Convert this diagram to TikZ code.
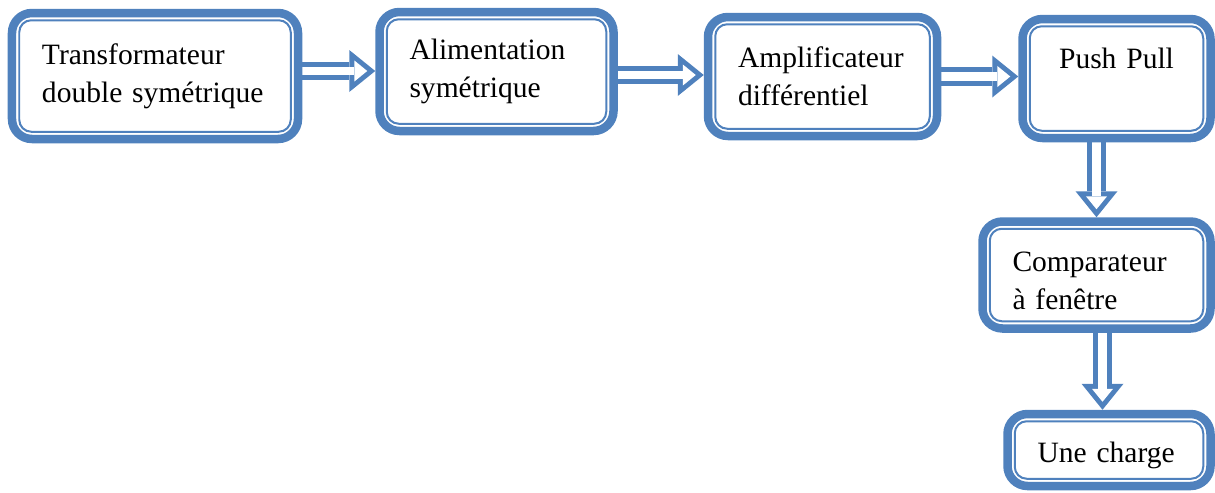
\documentclass[tikz,border=0pt]{standalone}
\usepackage{fontspec}
\setmainfont{Liberation Serif}
\usetikzlibrary{positioning, arrows.meta, backgrounds}
\definecolor{boxblue}{RGB}{79,129,189}

\begin{document}
\begin{tikzpicture}[>=Stealth, every node/.style={font=\fontsize{16.8pt}{21.5pt}\selectfont}]
        \useasboundingbox (0,0) rectangle (24.3,-9.84);
        \tikzset{
            blockbox/.style={draw=boxblue, line width=0.17cm, rounded corners=0.4cm, fill=white, inner xsep=0.6cm, inner ysep=0pt, align=left},
            innerline/.style={draw=boxblue, line width=0.04cm, rounded corners=0.24cm},
            hollowarrow/.style={draw=boxblue, line width=0.37cm, -{Triangle[length=0.52cm, width=0.84cm, line width=0pt]},
                postaction={draw=white, line width=0.17cm, shorten >=0.16cm, -{Triangle[length=0.26cm, width=0.424cm, line width=0pt]}}}
        }

        % Blocks
        \node (trans) [blockbox, minimum width=5.72cm, minimum height=2.52cm, text width=4.52cm] at (3.10,-1.52) {Transformateur\\double symétrique};
        \node (alim) [blockbox, right=1.46cm of trans, yshift=0.09cm, minimum width=4.68cm, minimum height=2.38cm, text width=3.48cm] {Alimentation\\symétrique};
        \node (ampli) [blockbox, right=1.72cm of alim, yshift=-0.1cm, minimum width=4.58cm, minimum height=2.38cm, text width=3.38cm] {Amplificateur\\différentiel};
        \node (push) [blockbox, right=1.54cm of ampli, yshift=-0.04cm, minimum width=3.76cm, minimum height=2.38cm, text width=2.56cm, align=center, text depth=0.82cm] {Push Pull};
        \node (comp) [blockbox, below=1.5cm of push, xshift=-0.4cm, minimum width=4.56cm, minimum height=2.14cm, text width=3.36cm, text height=0.64cm] {Comparateur\\à fenêtre};
        \node (charge) [blockbox, below=1.54cm of comp, xshift=0.25cm, minimum width=4.06cm, minimum height=1.44cm, text width=2.86cm, text height=0.62cm] {Une charge};

        % Inner border lines
        \foreach \n in {trans, alim, ampli, push, comp, charge}
            \draw[innerline] ([shift={(0.23,-0.23)}]\n.north west) rectangle ([shift={(-0.23,0.23)}]\n.south east);

        % Arrows
        \begin{scope}[on background layer]
            \draw[hollowarrow] ([yshift=0.1cm]trans.east) -- ([yshift=0.1cm]trans.east -| alim.west);
            \draw[hollowarrow] ([yshift=-0.07cm]alim.east) -- ([yshift=-0.07cm]alim.east -| ampli.west);
            \draw[hollowarrow] (ampli.east) -- (ampli.east -| push.west);
            \draw[hollowarrow] (push.south -| comp.north) -- (comp.north);
            \draw[hollowarrow] ([xshift=0.12cm]comp.south) -- ([xshift=0.12cm]comp.south |- charge.north);
        \end{scope}
\end{tikzpicture}
\end{document}
